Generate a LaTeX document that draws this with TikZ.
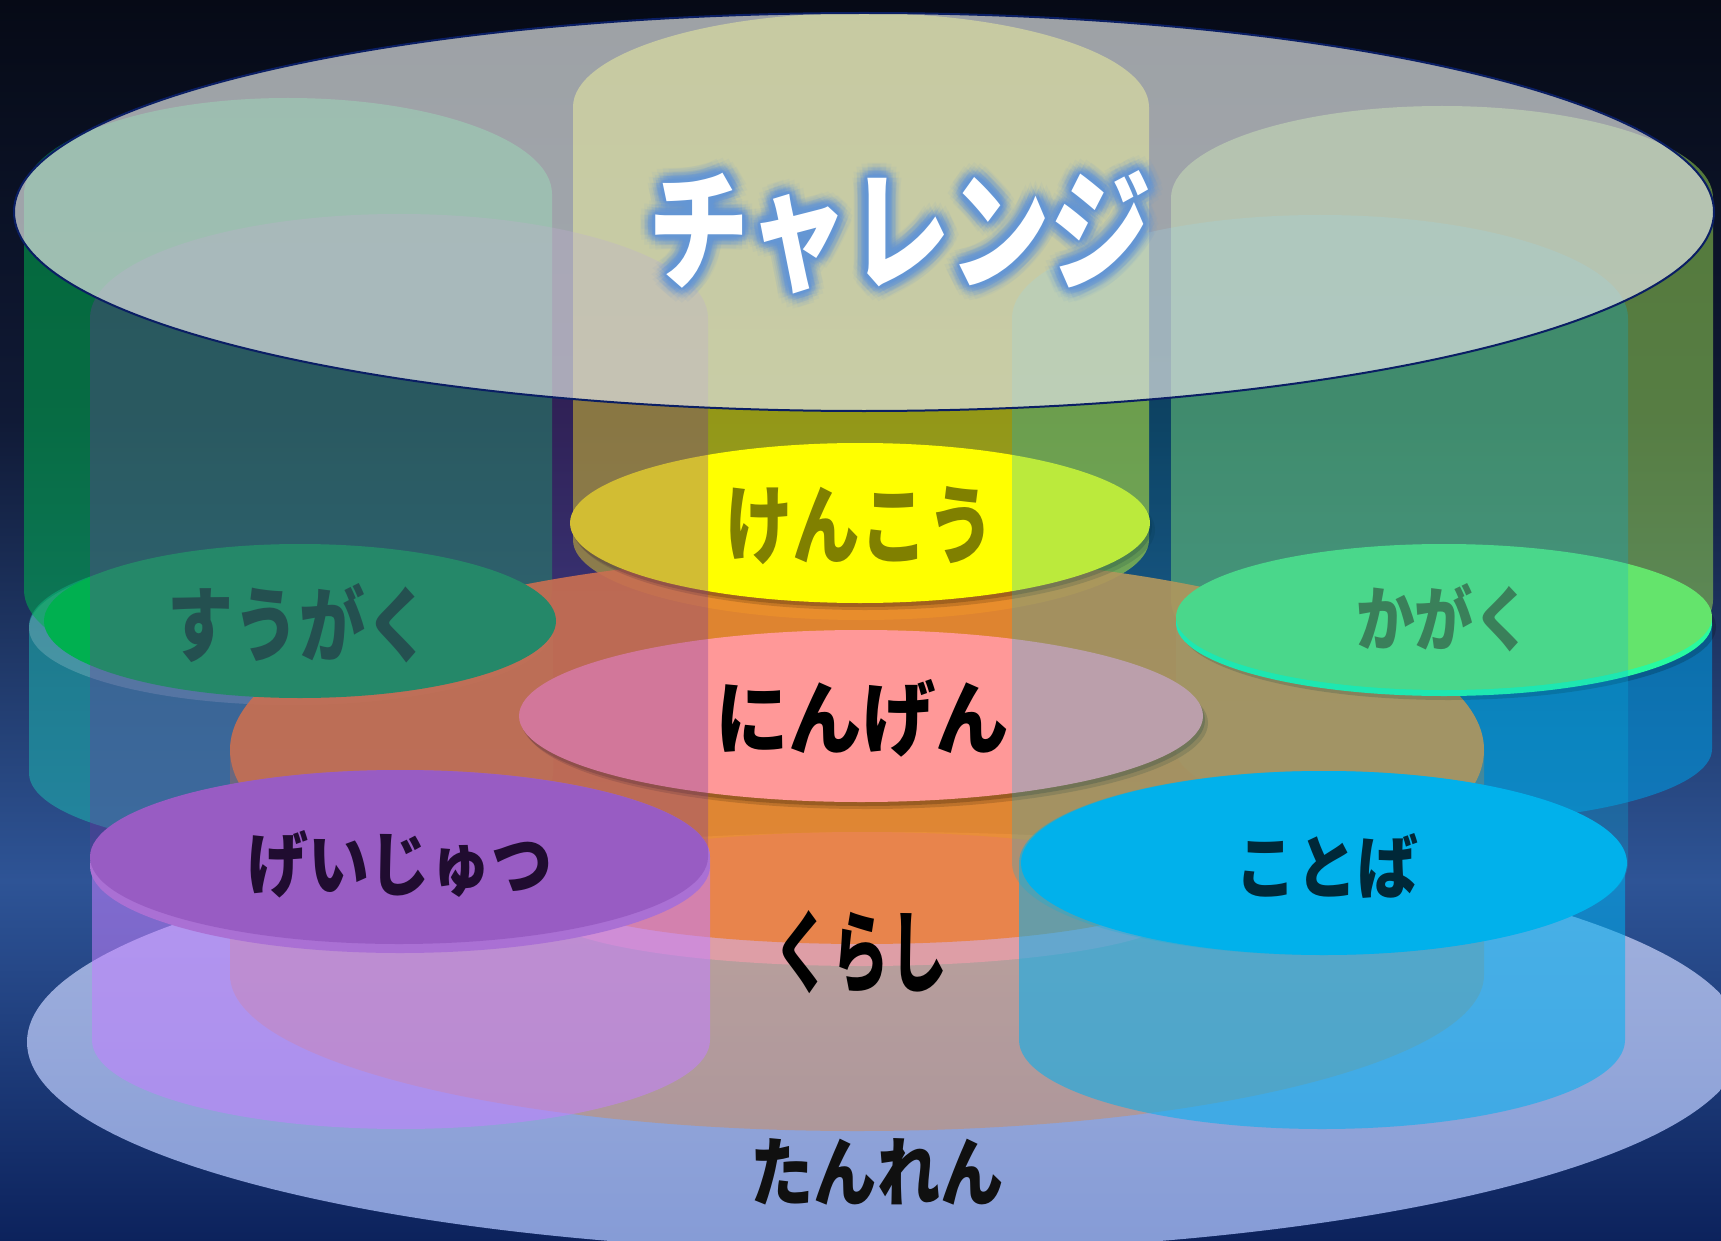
\documentclass[tikz,border=0pt]{standalone}
\usepackage{fontspec}
\usepackage{graphicx}
\newfontfamily\jpfont{Noto Sans CJK JP}
\definecolor{bgA}{RGB}{6,10,22}
\definecolor{bgB}{RGB}{16,26,54}
\definecolor{bgC}{RGB}{46,84,150}
\definecolor{bgD}{RGB}{12,34,92}
\definecolor{tanT}{RGB}{165,180,222}
\definecolor{tanB}{RGB}{133,155,214}
\definecolor{tealc}{RGB}{30,170,170}
\definecolor{bluec}{RGB}{0,150,220}
\definecolor{greenA}{RGB}{0,176,80}
\definecolor{yellowB}{RGB}{255,255,0}
\definecolor{greenC}{RGB}{146,208,80}
\definecolor{orangeBody}{RGB}{240,130,30}
\definecolor{orangeFace}{RGB}{240,140,45}
\definecolor{kurashiTop}{RGB}{232,132,76}
\definecolor{kurashiRim}{RGB}{222,158,166}
\definecolor{purpleLow}{RGB}{195,128,255}
\definecolor{blueLow}{RGB}{0,176,240}
\definecolor{geiC}{RGB}{170,112,212}
\definecolor{kotobaC}{RGB}{0,176,240}
\definecolor{sugakuC}{RGB}{0,176,80}
\definecolor{kagakuC}{RGB}{100,228,108}
\definecolor{kagakuRim}{RGB}{40,250,160}
\definecolor{kenkoC}{RGB}{255,255,0}
\definecolor{ningenC}{RGB}{255,152,152}
\definecolor{colD}{RGB}{117,52,160}
\definecolor{colE}{RGB}{5,180,225}
\definecolor{bigC}{RGB}{223,227,227}
\definecolor{bigLine}{RGB}{10,30,100}
\definecolor{glowc}{RGB}{100,150,215}
\definecolor{tKenko}{RGB}{128,128,0}
\definecolor{tSugaku}{RGB}{36,80,80}
\definecolor{tKagaku}{RGB}{58,128,90}
\definecolor{tGei}{RGB}{32,12,48}
\definecolor{tKotoba}{RGB}{0,40,56}
\definecolor{tTan}{RGB}{16,16,16}
% cylinder silhouette: options, cx, rx, ytop, ybot, rytop, rybot
\newcommand\cylpath[7]{%
  \path[#1] ({#2-#3},{-#4}) arc[start angle=180,end angle=0,x radius=#3pt,y radius=#6pt]
    -- ({#2+#3},{-#5}) arc[start angle=0,end angle=-180,x radius=#3pt,y radius=#7pt] -- cycle;}
\newcommand\jlabel[3]{\resizebox{#1pt}{#2pt}{\jpfont\bfseries #3}}
\newcommand\chaltext{\jlabel{503}{109}{チャレンジ}}
\tikzset{lbl/.style={inner sep=0pt, outer sep=0pt}}
\begin{document}
\begin{tikzpicture}[x=1pt,y=1pt]
\useasboundingbox (0,0) rectangle (1721,-1241);
\clip (0,0) rectangle (1721,-1241);
% background
\shade[top color=bgA, bottom color=bgB] (0,1) rectangle (1721,-421);
\shade[top color=bgB, bottom color=bgC] (0,-420) rectangle (1721,-881);
\shade[top color=bgC, bottom color=bgD] (0,-880) rectangle (1721,-1242);
% base ellipse (tanren)
\shade[top color=tanT, bottom color=tanB] (885,-1042) ellipse [x radius=858pt, y radius=210pt];
% lower cylinders under sugaku / kagaku
\cylpath{fill=tealc, fill opacity=0.6}{291}{262}{626}{773}{77}{77}
\fill[white, fill opacity=0.18] (291,-628) ellipse [x radius=262pt, y radius=77pt];
\cylpath{fill=bluec, fill opacity=0.6}{1444}{268}{623}{749}{73}{73}
% upper columns A, B, C
\cylpath{fill=greenA, fill opacity=0.55}{288}{264}{194}{590}{96}{96}
\cylpath{fill=yellowB, fill opacity=0.55}{861}{288}{107}{540}{94}{80}
\cylpath{fill=greenC, fill opacity=0.55}{1442}{271}{198}{600}{92}{92}
% orange (kurashi) cylinder
\cylpath{fill=orangeBody, fill opacity=0.33}{857}{627}{750}{975}{195}{156}
\fill[orangeFace, fill opacity=0.88] (857,-750) ellipse [x radius=627pt, y radius=195pt];
% kurashi disc
\fill[kurashiRim] (862,-910) ellipse [x radius=320pt, y radius=56pt];
\fill[kurashiTop] (862,-888) ellipse [x radius=320pt, y radius=56pt];
% lower purple / blue cylinders
\cylpath{fill=purpleLow, fill opacity=0.55}{401}{309}{857}{1040}{87}{89}
\cylpath{fill=blueLow, fill opacity=0.55}{1322}{303}{863}{1040}{92}{89}
% label discs
\fill[black, fill opacity=0.18] (862,-527) ellipse [x radius=290pt, y radius=80pt];
\fill[black, fill opacity=0.15] (865,-530) ellipse [x radius=290pt, y radius=80pt];
\fill[kenkoC] (860,-523) ellipse [x radius=290pt, y radius=80pt];
\fill[black, fill opacity=0.18] (863,-720) ellipse [x radius=342pt, y radius=86pt];
\fill[black, fill opacity=0.15] (866,-723) ellipse [x radius=342pt, y radius=86pt];
\fill[ningenC] (861,-716) ellipse [x radius=342pt, y radius=86pt];
\fill[sugakuC] (300,-621) ellipse [x radius=256pt, y radius=77pt];
\fill[black, fill opacity=0.18] (1448,-627) ellipse [x radius=268pt, y radius=73pt];
\fill[kagakuRim] (1444,-623) ellipse [x radius=268pt, y radius=73pt];
\fill[kagakuC] (1444,-617) ellipse [x radius=268pt, y radius=73pt];
\fill[geiC] (400,-866) ellipse [x radius=310pt, y radius=87pt];
\fill[geiC] (400,-857) ellipse [x radius=310pt, y radius=87pt];
\fill[kotobaC] (1324,-863) ellipse [x radius=303pt, y radius=92pt];
% translucent columns D and E
\cylpath{fill=colD, fill opacity=0.32}{399}{309}{318}{857}{104}{87}
\cylpath{fill=colE, fill opacity=0.27}{1320}{308}{318}{863}{103}{92}
% big top ellipse
\filldraw[fill=bigC, fill opacity=0.7, draw=bigLine, line width=2pt] (864,-212) ellipse [x radius=850pt, y radius=199pt];
% glow for title
\foreach \r/\o in {15/0.07, 11/0.12, 7/0.2, 3/0.3} {
  \foreach \a [count=\i] in {0,22.5,...,337.5} {
    \node[lbl, text=glowc, opacity=\o] (glow-\r-\i) at ([shift={(\a:\r)}]900,-232) {\chaltext};
  }
}
\node[lbl, text=white] (challenge) at (900,-232) {\chaltext};
% labels
\node[lbl, text=tKenko] (kenko) at (860,-526) {\jlabel{270}{71}{けんこう}};
\node[lbl, text=black] (ningen) at (862,-718) {\jlabel{294}{69}{にんげん}};
\node[lbl, text=black] (kurashi) at (860,-952) {\jlabel{174}{75}{くらし}};
\node[lbl, text=tSugaku] (sugaku) at (299,-623) {\jlabel{264}{72}{すうがく}};
\node[lbl, text=tKagaku] (kagaku) at (1444,-618) {\jlabel{176}{62}{かがく}};
\node[lbl, text=tGei] (geijutsu) at (400,-864) {\jlabel{305}{60}{げいじゅつ}};
\node[lbl, text=tKotoba] (kotoba) at (1327,-866) {\jlabel{183}{60}{ことば}};
\node[lbl, text=tTan] (tanren) at (877,-1172) {\jlabel{253}{62}{たんれん}};
\end{tikzpicture}
\end{document}
